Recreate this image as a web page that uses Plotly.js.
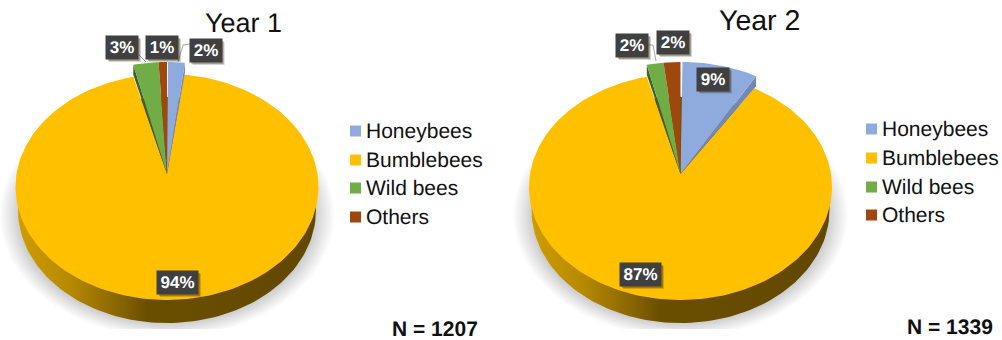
<!DOCTYPE html>
<html>
<head>
<meta charset="utf-8">
<script src="https://cdn.plot.ly/plotly-3.0.1.min.js"></script>
<style>
html,body{margin:0;padding:0;background:#fff;overflow:hidden}
#chart{width:1002px;height:340px}
svg text{text-rendering:geometricPrecision}
</style>
</head>
<body>
<div id="chart"></div>
<script>
// Pollinator share per year, in percent, clockwise from twelve o'clock.
const categories = ['Honeybees', 'Bumblebees', 'Wild bees', 'Others'];
const year1Values = [2, 94, 3, 1];
const year2Values = [9, 87, 2, 2];
const sampleLabels = ['N = 1207', 'N = 1339'];
const yearTitles = ['Year 1', 'Year 2'];
const sliceColors = ['#8faadc', '#ffc000', '#70ad47', '#9e480e'];
const sideColors = ['#7288b5', null, '#3c6227', null];

const FONT = '"Liberation Sans", Arial, sans-serif';

// Tilted-disc projection: a unit circle seen in perspective stays an ellipse,
// with the hub sitting above the ellipse's middle.
const P = 0.115, RY = 111.5, RX = 150.5;

function project(pie, frac) {
  const a = frac * 2 * Math.PI, u = Math.sin(a), v = -Math.cos(a);
  const w = 1 - P * v;
  return [pie.cx + RX * u / w, pie.cy + RY * v / w];
}

function arc(pie, from, to, dx, dy) {
  const n = Math.max(2, Math.ceil((to - from) * 240));
  const pts = [];
  for (let i = 0; i <= n; i++) {
    const p = project(pie, from + (to - from) * i / n);
    pts.push([p[0] + dx, p[1] + dy]);
  }
  return pts;
}

function polygon(pts, extra) {
  return Object.assign({
    x: pts.map(p => p[0]), y: pts.map(p => p[1]),
    type: 'scatter', mode: 'lines', fill: 'toself',
    line: {width: 0}, hoverinfo: 'skip', showlegend: false
  }, extra);
}

function ellipse(cx, cy, rx, ry, clipBottom) {
  const pts = [];
  for (let i = 0; i <= 180; i++) {
    const a = i / 180 * 2 * Math.PI;
    pts.push([cx + rx * Math.cos(a), Math.min(cy + ry * Math.sin(a), clipBottom)]);
  }
  return pts;
}

function pieTraces(pie, values) {
  const total = values.reduce((s, v) => s + v, 0);
  const traces = [];

  // soft cast shadow under the disc: nested rings, light outside, darker inside
  const rings = 16;
  for (let k = 0; k < rings; k++) {
    const r = 1 - 0.15 * k / (rings - 1);
    const g = Math.round(255 - 65 * (k + 1) / rings);
    traces.push(polygon(ellipse(pie.cx, 215, 167 * r, 122 * r, 329), {
      fillcolor: 'rgb(' + g + ',' + g + ',' + g + ')'
    }));
  }

  // side wall of the disc
  traces.push(polygon(ellipse(pie.cx, 210, 149, 113, 999), {
    fillgradient: {type: 'horizontal', colorscale: [
      [0, '#cf9d00'], [0.18, '#b58800'], [0.33, '#8a6700'],
      [0.43, '#6b4f00'], [1, '#624700']]}
  }));

  // large slice stays on the disc, small slices sit slightly lifted
  let start = 0;
  const small = [];
  values.forEach((v, i) => {
    const from = start / total, to = (start + v) / total;
    start += v;
    if (v < 50) small.push({i, from, to});
    else {
      traces.push(polygon([[pie.cx, pie.cy]].concat(arc(pie, from, to, 0, 0)), {
        fillcolor: sliceColors[i]
      }));
    }
  });

  small.forEach(s => {
    const dx = s.i === 0 ? pie.gap : 0;
    const rim = arc(pie, s.from, s.to, dx, -pie.lift);
    if (sideColors[s.i]) {
      const tip = s.i === 0 ? rim[rim.length - 1] : rim[0];
      traces.push(polygon([[pie.cx, pie.cy], tip, [tip[0], tip[1] + 10]], {
        fillcolor: sideColors[s.i]
      }));
    }
    traces.push(polygon([[pie.cx, pie.cy]].concat(rim), {fillcolor: sliceColors[s.i]}));
  });
  return traces;
}

function legendTraces(mx, tx, ys) {
  return [{
    x: ys.map(() => mx), y: ys, type: 'scatter', mode: 'markers',
    marker: {symbol: 'square', size: 11, color: sliceColors, line: {width: 0}},
    hoverinfo: 'skip', showlegend: false
  }, {
    x: ys.map(() => tx), y: ys.map(y => y + 1.5), type: 'scatter', mode: 'text', text: categories,
    textposition: 'middle right',
    textfont: {family: FONT, size: 21, color: '#111111'},
    hoverinfo: 'skip', showlegend: false
  }];
}

function leader(pts) {
  return {
    x: pts.map(p => p[0]), y: pts.map(p => p[1]), type: 'scatter', mode: 'lines',
    line: {color: '#a6a6a6', width: 1}, hoverinfo: 'skip', showlegend: false
  };
}

const pie1 = {cx: 167, cy: 174, lift: 12, gap: 1};
const pie2 = {cx: 680.5, cy: 174, lift: 12, gap: 2};

const traces = [].concat(
  pieTraces(pie1, year1Values),
  pieTraces(pie2, year2Values),
  legendTraces(355.5, 366, [131, 160, 188, 217]),
  legendTraces(871.5, 882, [129, 158, 187, 215]),
  [leader([[138, 54], [146, 62]]),
   leader([[190, 44], [183, 45], [178, 62]]),
   leader([[647, 45], [653, 45], [656, 61]])]
);

const labelShadows = [];

// dark value tag with a small offset shadow behind it
function pct(v, x, y) {
  const w = String(v).length > 1 ? 41 : 32, h = 23;
  [[2, 0.3], [3, 0.2]].forEach(([off, alpha]) => {
    labelShadows.push({
      type: 'rect', xref: 'x', yref: 'y', layer: 'above',
      x0: x - w / 2 + off, x1: x + w / 2 + off, y0: y - h / 2 + off, y1: y + h / 2 + off,
      fillcolor: 'rgba(50,40,0,' + alpha + ')', line: {width: 0}
    });
  });
  return {
    x, y, xref: 'x', yref: 'y', text: '<b>' + v + '%</b>', showarrow: false,
    xanchor: 'center', yanchor: 'middle', align: 'center', valign: 'middle',
    width: w, height: h, bgcolor: '#404040', borderpad: 0,
    font: {family: FONT, size: 17, color: '#ffffff'}
  };
}

function plain(text, x, y, size) {
  return {
    x, y, xref: 'x', yref: 'y', text, showarrow: false,
    xanchor: 'center', yanchor: 'middle',
    font: {family: FONT, size, color: '#111111'}
  };
}

const annotations = [
  plain(yearTitles[0], 243.5, 23, 27),
  plain(yearTitles[1], 759, 21, 28.5),
  plain('<b>' + sampleLabels[0] + '</b>', 434.5, 329, 21),
  plain('<b>' + sampleLabels[1] + '</b>', 950, 327, 21),
  pct(year1Values[0], 205.5, 50.5),
  pct(year1Values[1], 177.5, 282.5),
  pct(year1Values[2], 122, 47.5),
  pct(year1Values[3], 162, 47.5),
  pct(year2Values[0], 713, 79),
  pct(year2Values[1], 640.5, 274.5),
  pct(year2Values[2], 632, 45.5),
  pct(year2Values[3], 673, 42.5)
];

const hiddenAxis = {visible: false, fixedrange: true, showgrid: false, zeroline: false};

Plotly.newPlot('chart', traces, {
  width: 1002, height: 340,
  margin: {l: 0, r: 0, t: 0, b: 0},
  paper_bgcolor: '#ffffff', plot_bgcolor: '#ffffff',
  xaxis: Object.assign({range: [0, 1002]}, hiddenAxis),
  yaxis: Object.assign({range: [340, 0]}, hiddenAxis),
  showlegend: false,
  shapes: labelShadows,
  annotations
}, {displayModeBar: false, staticPlot: true});
</script>
</body>
</html>
